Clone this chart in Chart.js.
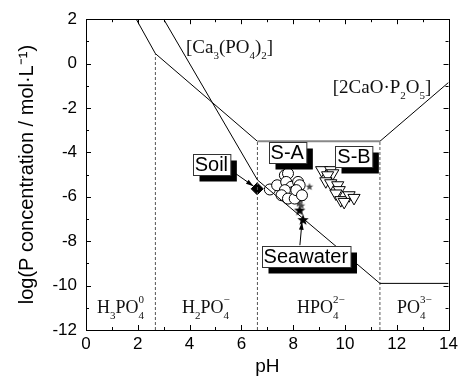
<!DOCTYPE html>
<html>
<head>
<meta charset="utf-8">
<script src="https://cdn.jsdelivr.net/npm/chart.js@4.4.0/dist/chart.umd.min.js"></script>
<style>
  html, body { margin: 0; padding: 0; background: #fff; }
</style>
</head>
<body>
<canvas id="chart" width="462" height="384"></canvas>
<script>
// solubility / speciation lines
const upperX = [1.94, 2.68, 6.62, 11.35, 14];
const upperY = [2, 0.45, -3.5, -3.5, -0.85];
const caX = [3.0, 6.62, 11.35, 14];
const caY = [2, -5.24, -9.9, -9.9];
const boundaryPH = [2.68, 6.62, 11.35];
const boundaryTop = [0.45, -3.5, -3.5];

// samples
const soilPH = [6.61];
const soilP = [-5.64];
const saPH = [7.10, 7.38, 7.68, 7.80, 7.73, 7.93, 8.19, 8.25, 8.00, 7.68, 7.55, 7.80, 8.06, 8.25, 8.12, 8.34];
const saP = [-5.67, -5.48, -5.03, -4.95, -5.33, -5.55, -5.33, -5.85, -5.78, -5.70, -5.93, -6.08, -6.08, -5.48, -5.70, -5.93];
const sbPH = [9.10, 9.45, 9.53, 9.33, 9.26, 9.45, 9.72, 9.78, 9.65, 9.84, 10.16, 10.35, 9.97];
const sbP = [-4.80, -4.80, -4.94, -5.03, -5.30, -5.39, -5.48, -5.70, -5.85, -6.15, -5.93, -6.05, -6.23];
const seaPH = [8.25, 8.38, 8.63, 8.28, 8.36, 8.22, 8.32];
const seaP = [-6.62, -7.05, -5.55, -6.15, -6.05, -6.30, -6.40];
const seaBig = [true, true, false, false, false, false, false];

const xTicks = [0, 2, 4, 6, 8, 10, 12, 14];
const yTicks = [-12, -10, -8, -6, -4, -2, 0, 2];

const pts = (xs, ys) => xs.map((x, i) => ({ x: x, y: ys[i] }));

// filled star marker
function starImage(r, color) {
  const c = document.createElement("canvas");
  c.width = c.height = r * 2 + 2;
  const g = c.getContext("2d");
  g.beginPath();
  for (let i = 0; i < 10; i++) {
    const rad = i % 2 === 0 ? r : r * 0.42;
    const a = -Math.PI / 2 + i * Math.PI / 5;
    const px = r + 1 + rad * Math.cos(a), py = r + 1 + rad * Math.sin(a);
    i === 0 ? g.moveTo(px, py) : g.lineTo(px, py);
  }
  g.closePath();
  g.fillStyle = color;
  g.fill();
  return c;
}
const bigStar = starImage(6, "#000");
const smallStar = starImage(4, "#444");

const serif = '"Liberation Serif", "Times New Roman", serif';
const sans = '"Liberation Sans", Arial, sans-serif';

function drawRich(ctx, x, y, parts, size) {
  const small = Math.round(size * 0.6);
  ctx.textBaseline = "alphabetic";
  ctx.textAlign = "left";
  parts.forEach(tok => {
    if (typeof tok === "string") {
      ctx.font = size + "px " + serif;
      ctx.fillText(tok, x, y);
      x += ctx.measureText(tok).width;
    } else {
      ctx.font = small + "px " + serif;
      let w = 0;
      if (tok.sub) { ctx.fillText(tok.sub, x, y + size * 0.3); w = ctx.measureText(tok.sub).width; }
      if (tok.sup) { ctx.fillText(tok.sup, x, y - size * 0.55); w = Math.max(w, ctx.measureText(tok.sup).width); }
      x += w;
    }
  });
}

const richLabels = [
  { x: 0.42, y: -11.24, size: 18, parts: ["H", { sub: "3" }, "PO", { sub: "4", sup: "0" }] },
  { x: 3.71, y: -11.24, size: 18, parts: ["H", { sub: "2" }, "PO", { sub: "4", sup: "\u2212" }] },
  { x: 8.15, y: -11.24, size: 18, parts: ["HPO", { sub: "4", sup: "2\u2212" }] },
  { x: 12.01, y: -11.24, size: 18, parts: ["PO", { sub: "4", sup: "3\u2212" }] },
  { x: 3.86, y: 0.47, size: 19, parts: ["[Ca", { sub: "3" }, "(PO", { sub: "4" }, ")", { sub: "2" }, "]"] },
  { x: 9.53, y: -1.33, size: 19, parts: ["[2CaO\u00b7P", { sub: "2" }, "O", { sub: "5" }, "]"] }
];

const boxLabels = [
  { text: "Soil", x: 4.84, y: -4.55 },
  { text: "S-A", x: 7.77, y: -4.01 },
  { text: "S-B", x: 10.35, y: -4.17 },
  { text: "Seawater", x: 8.49, y: -8.70 }
];

const arrows = [
  { from: [5.70, -4.89], to: [6.47, -5.52] },
  { from: [8.26, -8.18], to: [8.34, -7.14] }
];

const decor = {
  id: "decor",
  beforeDatasetsDraw(chart) {
    const { ctx, scales: { x, y } } = chart;
    ctx.save();
    ctx.fillStyle = "#111";
    richLabels.forEach(l => drawRich(ctx, x.getPixelForValue(l.x), y.getPixelForValue(l.y), l.parts, l.size));
    ctx.restore();
  },
  afterDatasetsDraw(chart) {
    const { ctx, scales: { x, y } } = chart;
    ctx.save();
    // arrows
    arrows.forEach(a => {
      const x1 = x.getPixelForValue(a.from[0]), y1 = y.getPixelForValue(a.from[1]);
      const x2 = x.getPixelForValue(a.to[0]), y2 = y.getPixelForValue(a.to[1]);
      ctx.strokeStyle = "#000";
      ctx.lineWidth = 1;
      ctx.beginPath();
      ctx.moveTo(x1, y1);
      ctx.lineTo(x2, y2);
      ctx.stroke();
      const ang = Math.atan2(y2 - y1, x2 - x1);
      ctx.beginPath();
      ctx.moveTo(x2, y2);
      ctx.lineTo(x2 - 8 * Math.cos(ang - 0.3), y2 - 8 * Math.sin(ang - 0.3));
      ctx.lineTo(x2 - 8 * Math.cos(ang + 0.3), y2 - 8 * Math.sin(ang + 0.3));
      ctx.closePath();
      ctx.fillStyle = "#000";
      ctx.fill();
    });
    // boxed labels with shadow
    ctx.font = "20px " + sans;
    boxLabels.forEach(b => {
      const cx = x.getPixelForValue(b.x), cy = y.getPixelForValue(b.y);
      const w = ctx.measureText(b.text).width + 4, h = 21;
      const lx = Math.round(cx - w / 2) + 0.5, ty = Math.round(cy - h / 2) + 0.5;
      ctx.fillStyle = "#000";
      ctx.fillRect(lx + 6, ty + 6, w, h);
      ctx.fillStyle = "#fff";
      ctx.fillRect(lx, ty, w, h);
      ctx.strokeStyle = "#333";
      ctx.lineWidth = 1;
      ctx.strokeRect(lx, ty, w, h);
      ctx.fillStyle = "#000";
      ctx.textAlign = "center";
      ctx.textBaseline = "middle";
      ctx.fillText(b.text, cx, cy + 1);
    });
    ctx.restore();
  },
  afterDraw(chart) {
    const { ctx, chartArea: a, scales: { x, y } } = chart;
    ctx.save();
    ctx.strokeStyle = "#000";
    ctx.lineWidth = 1;
    ctx.strokeRect(Math.round(a.left) + 0.5, Math.round(a.top) + 0.5, Math.round(a.right - a.left), Math.round(a.bottom - a.top));
    ctx.beginPath();
    for (let v = 0; v <= 14; v++) {
      const px = Math.round(x.getPixelForValue(v)) + 0.5;
      const len = v % 2 === 0 ? 5 : 3;
      ctx.moveTo(px, a.bottom); ctx.lineTo(px, a.bottom - len);
      ctx.moveTo(px, a.top); ctx.lineTo(px, a.top + len);
    }
    for (let v = -12; v <= 2; v++) {
      const py = Math.round(y.getPixelForValue(v)) + 0.5;
      const len = v % 2 === 0 ? 5 : 3;
      ctx.moveTo(a.left, py); ctx.lineTo(a.left + len, py);
      ctx.moveTo(a.right, py); ctx.lineTo(a.right - len, py);
    }
    ctx.stroke();
    ctx.restore();
  }
};

const boundaryData = [];
boundaryPH.forEach((ph, i) => {
  boundaryData.push({ x: ph, y: -12 }, { x: ph, y: boundaryTop[i] }, { x: NaN, y: NaN });
});

const ctx = document.getElementById("chart");
new Chart(ctx, {
  type: "scatter",
  data: {
    datasets: [
      {
        label: "Ca3(PO4)2",
        data: pts(caX, caY),
        showLine: true, borderColor: "#000", borderWidth: 1, pointRadius: 0, spanGaps: false
      },
      {
        label: "2CaO.P2O5",
        data: pts(upperX, upperY),
        showLine: true, borderColor: "#000", borderWidth: 1, pointRadius: 0,
        segment: { borderColor: c => (c.p0DataIndex === 2 ? "#888" : "#000"), borderWidth: c => (c.p0DataIndex === 2 ? 2 : 1) }
      },
      {
        label: "pKa",
        data: boundaryData,
        showLine: true, borderColor: "#555", borderWidth: 1, borderDash: [3, 2], pointRadius: 0, spanGaps: false
      },
      {
        label: "S-A",
        data: pts(saPH, saP),
        pointStyle: "circle", pointRadius: 5.5, backgroundColor: "#fff", borderColor: "#000", borderWidth: 1
      },
      {
        label: "Seawater",
        data: pts(seaPH, seaP),
        pointStyle: seaBig.map(b => (b ? bigStar : smallStar))
      },
      {
        label: "S-B",
        data: pts(sbPH, sbP),
        pointStyle: "triangle", rotation: 180, pointRadius: 7, backgroundColor: "#fff", borderColor: "#000", borderWidth: 1
      },
      {
        label: "Soil",
        data: pts(soilPH, soilP),
        pointStyle: "rectRot", pointRadius: 6, backgroundColor: "#000", borderColor: "#000", borderWidth: 1
      }
    ]
  },
  options: {
    responsive: false,
    animation: false,
    devicePixelRatio: 1,
    layout: { padding: { left: 0, right: 9, top: 19, bottom: 0 } },
    plugins: { legend: { display: false }, tooltip: { enabled: false } },
    scales: {
      x: {
        type: "linear", min: 0, max: 14,
        afterBuildTicks: s => { s.ticks = xTicks.map(v => ({ value: v })); },
        afterFit: s => { s.height = 54; },
        grid: { display: false, drawTicks: false },
        border: { display: false },
        ticks: { color: "#000", font: { family: sans, size: 17 }, padding: 4, maxRotation: 0 },
        title: { display: true, text: "pH", color: "#000", font: { family: sans, size: 19 }, padding: { top: 0, bottom: 6 } }
      },
      y: {
        type: "linear", min: -12, max: 2,
        afterBuildTicks: s => { s.ticks = yTicks.map(v => ({ value: v })); },
        afterFit: s => { s.width = 86; },
        grid: { display: false, drawTicks: false },
        border: { display: false },
        ticks: { color: "#000", font: { family: sans, size: 17 }, padding: 9 },
        title: { display: true, text: "log(P concentration / mol\u00b7L\u207b\u00b9)", color: "#000", font: { family: sans, size: 20 }, padding: { top: 15, bottom: 0 } }
      }
    }
  },
  plugins: [decor]
});
</script>
</body>
</html>
